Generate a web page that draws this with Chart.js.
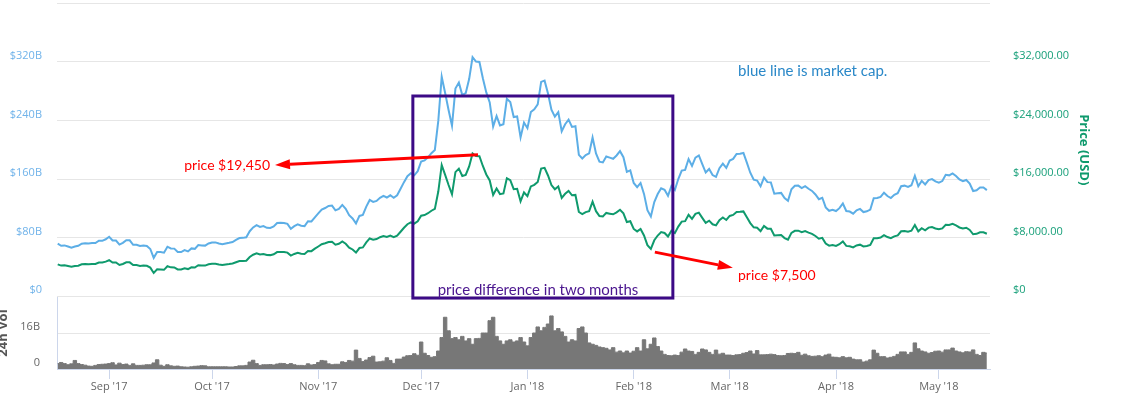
<!DOCTYPE html>
<html>
<head>
<meta charset="utf-8">
<script src="https://cdn.jsdelivr.net/npm/chart.js@4.4.1/dist/chart.umd.min.js"></script>
<style>
  html, body { margin: 0; padding: 0; background: #ffffff; width: 1125px; height: 397px; overflow: hidden; }
  #wrapMain { position: absolute; left: 0; top: 0; width: 1125px; height: 306px; z-index: 2; }
  #wrapVol { position: absolute; left: 0; top: 280px; width: 1125px; height: 117px; z-index: 1; }
  canvas { display: block; }
</style>
</head>
<body>
<div id="wrapVol"><canvas id="vol" width="1125" height="117"></canvas></div>
<div id="wrapMain"><canvas id="main" width="1125" height="306"></canvas></div>
<script>
// ---------------- DATA ----------------
// one value per day, starting at this date (2017-08-17 ... 2018-05-15)
const startDate = '2017-08-17';
const axisStartDate = '2017-08-16T19:00Z';
const axisEndDate = '2018-05-15T22:00Z';

const monthTickDates = ['2017-09-01', '2017-10-01', '2017-11-01', '2017-12-01', '2018-01-01',
                        '2018-02-01', '2018-03-01', '2018-04-01', '2018-05-01'];
const monthTickLabels = ["Sep '17", "Oct '17", "Nov '17", "Dec '17", "Jan '18",
                         "Feb '18", "Mar '18", "Apr '18", "May '18"];

// Price (USD)
const priceUSD = [
  4330,4160,4190,4090,4000,4100,4150,4330,4370,4350,4380,4380,4580,4570,4700,
  4890,4580,4580,4240,4380,4600,4600,4230,4230,4120,4160,4130,3880,3150,3640,3630,3580,4070,3920,3910,3630,3630,3790,3680,3930,3890,4200,4170,4160,4340,
  4400,4410,4320,4250,4320,4370,4440,4610,4770,4780,4830,5330,5640,5830,5680,5750,5610,5590,5710,6010,6030,6010,5930,5530,5750,5900,5780,5750,6150,6130,6470,
  6770,7080,7210,7380,7410,7020,7140,7460,7140,6620,6360,5950,6560,6640,7320,7870,7710,7790,8040,8200,8070,8250,8040,8250,8790,9330,9820,10060,9890,10230,
  10980,11070,11320,11660,11920,14290,17900,16570,15180,13900,16940,17420,16410,16560,17710,19500,19140,19110,17780,16620,15800,13830,14700,13930,14030,16100,15840,14610,14660,12950,14160,
  13660,14980,15200,15600,17430,17530,16480,15170,14600,14970,13410,13980,14360,13770,13820,11490,11190,11470,11610,12900,11600,10930,10870,11360,11260,11170,11440,11790,11300,10110,10220,
  9170,8830,9170,8280,6960,6450,7620,8270,8740,8620,8130,8930,8600,9490,10170,10230,11110,10550,11230,11400,10690,10010,10300,9810,9660,10370,10730,10400,
  10950,11090,11490,11510,11570,10780,9970,9400,9340,8870,9580,9210,9190,8270,8300,8340,7920,7700,8630,8910,8930,8730,8880,8670,8500,8210,7830,7950,7170,6890,6970,
  6850,7080,7460,6850,6810,6640,6910,7020,6770,6830,6970,7890,7900,7990,8330,8060,7900,8160,8290,8850,8900,8800,8930,9700,8850,9280,8990,9350,9420,9240,
  9120,9240,9740,9700,9860,9650,9370,9230,9330,9040,8440,8500,8720,8720,8510
];

// Market cap (billions USD)
const marketCapB = [
  71.5,68.7,69.2,67.6,66.1,67.7,68.6,71.5,72.2,71.9,72.4,72.4,75.7,75.5,77.6,
  81.0,75.9,75.9,70.3,72.6,76.2,76.2,70.1,70.1,68.3,68.9,68.4,64.3,52.2,60.3,60.1,59.3,67.4,65.0,64.8,60.1,60.1,62.8,61.0,65.1,64.5,69.6,69.1,68.9,71.9,
  73.2,73.3,71.8,70.7,71.8,72.7,73.8,76.7,79.3,79.5,80.3,88.6,93.8,97.0,94.5,95.6,93.3,93.0,95.0,99.9,100.3,99.9,98.6,92.0,95.6,98.1,96.1,95.6,102.3,101.9,107.6,
  113.0,118.2,120.3,123.2,123.7,117.2,119.2,124.5,119.2,110.5,106.1,99.3,109.5,110.8,122.2,131.3,128.7,130.0,134.2,136.9,134.7,137.7,134.2,137.7,146.7,155.7,163.9,167.9,165.1,170.7,
  183.9,185.4,189.6,195.3,199.7,239.4,299.8,277.5,254.3,232.8,283.7,291.8,274.9,277.4,296.6,326.6,320.6,320.1,297.8,278.4,264.7,231.7,246.2,233.3,235.0,269.7,265.3,244.7,245.6,216.9,237.2,
  229.5,251.7,255.4,262.1,292.8,294.5,276.9,254.9,245.3,251.5,225.3,234.9,241.2,231.3,232.2,193.0,188.0,192.7,195.0,216.7,194.9,183.6,182.6,190.8,189.2,187.7,192.2,198.1,189.8,169.8,171.7,
  154.6,148.9,154.6,139.6,117.3,108.7,128.5,139.4,147.4,145.3,137.1,150.6,145.0,160.0,171.5,172.5,187.3,177.9,189.3,192.2,180.2,168.8,173.7,165.4,162.9,174.8,180.9,175.3,
  185.2,187.5,194.3,194.6,195.6,182.3,168.6,159.0,157.9,150.0,162.0,155.7,155.4,139.8,140.4,141.0,133.9,130.2,145.9,150.7,151.0,147.6,150.2,146.6,143.7,138.8,132.4,134.4,121.2,116.5,117.9,
  116.2,120.1,126.5,116.2,115.5,112.6,117.2,119.1,114.8,115.8,118.2,133.8,134.0,135.5,141.3,136.7,134.0,138.4,140.6,150.1,150.9,149.2,151.5,164.5,150.1,157.4,152.5,158.6,159.8,156.7,
  155.1,157.2,165.7,165.0,167.7,164.1,159.4,157.0,158.7,153.8,143.6,144.6,148.3,148.3,144.8
];

// 24h volume (billions USD)
const volumeB = [
  2.4,2.9,2.4,1.9,2.3,3.8,2.4,2.0,1.7,1.3,1.2,1.6,2.0,2.1,2.2,
  2.4,2.8,1.8,2.6,2.0,2.2,1.6,2.3,1.6,1.6,1.7,1.9,1.9,2.7,4.1,1.7,1.2,1.9,1.4,1.2,1.3,1.0,0.9,0.8,1.0,1.2,1.3,1.5,1.4,1.0,
  1.0,1.0,1.0,1.0,1.0,0.9,0.9,1.1,1.4,1.4,1.6,3.1,3.9,2.4,1.6,1.9,1.9,2.0,1.8,2.2,2.5,2.4,2.0,2.4,1.9,1.6,1.6,1.5,2.3,1.8,2.0,
  2.9,3.8,3.6,2.3,1.9,2.1,2.1,3.2,2.9,3.8,3.5,8.4,4.7,3.3,4.0,5.1,5.7,3.1,3.2,3.5,5.0,3.8,2.5,4.4,4.4,5.3,5.9,6.0,6.8,6.1,
  12.0,7.0,6.0,5.2,5.5,8.0,14.0,23.0,17.0,13.5,14.0,13.0,14.5,12.5,13.5,11.0,13.5,13.6,16.0,16.0,21.5,23.0,14.5,12.5,11.0,12.5,13.0,12.0,12.5,14.0,12.0,
  10.3,14.0,16.0,18.7,17.0,18.5,20.0,23.6,17.0,18.0,16.5,14.5,12.0,13.0,12.5,18.0,18.7,16.0,11.6,11.0,10.5,9.8,9.5,9.2,8.5,9.5,7.5,8.0,7.2,8.0,7.1,
  7.9,9.5,8.0,13.0,9.0,11.0,13.8,10.0,8.0,6.5,6.0,5.9,6.2,6.0,7.5,8.9,8.0,7.8,6.5,7.4,8.9,8.5,7.4,6.5,8.4,6.6,7.0,6.2,
  6.2,6.0,6.3,6.4,7.0,7.3,8.0,6.7,8.2,6.3,6.3,6.4,6.6,6.4,6.0,5.9,6.0,6.9,7.0,6.9,7.4,6.1,6.6,5.9,5.6,5.7,5.9,5.5,6.2,6.6,5.3,
  5.2,5.0,5.5,5.0,5.2,4.4,4.1,4.1,3.1,3.5,4.1,8.4,7.0,5.5,5.5,4.9,5.2,5.6,6.5,7.6,7.6,6.5,7.4,11.6,9.0,8.0,7.6,7.0,7.3,7.9,
  8.0,7.5,8.5,8.5,9.3,8.0,7.6,7.2,7.7,7.6,8.5,6.5,6.0,7.4,7.1
];

// Left axis ticks (billions), right axis ticks (USD), volume ticks (billions)
const capTicksB = [0, 80, 160, 240, 320, 400];
const priceTicks = [0, 8000, 16000, 24000, 32000, 40000];
const volTicksB = [0, 16, 32];

// Annotations (anchored to date / price)
const noteBox = { from: '2017-11-28T14:00Z', to: '2018-02-12T10:00Z', topPrice: 27350, bottomPrice: -280 };
const noteArrows = [
  { fromDate: '2017-12-17T14:00Z', fromPrice: 19300, toDate: '2017-10-19T09:00Z', toPrice: 17900 },
  { fromDate: '2018-02-07T04:00Z', fromPrice: 6000, toDate: '2018-03-01T22:00Z', toPrice: 3850 }
];
const noteTexts = [
  { text: 'price $19,450', date: '2017-10-17T22:00Z', price: 17900, align: 'right', kind: 'red', size: 14 },
  { text: 'price $7,500', date: '2018-03-03T10:00Z', price: 2750, align: 'left', kind: 'red', size: 14 },
  { text: 'blue line is market cap.', date: '2018-03-03T10:00Z', price: 30700, align: 'left', kind: 'blue', size: 15 },
  { text: 'price difference in two months', date: '2018-01-04T02:00Z', price: 850, align: 'center', kind: 'purple', size: 15 }
];

// ---------------- HELPERS ----------------
const DAY = 86400000;
const ORIGIN = Date.parse(monthTickDates[0] + 'T00:00Z');
function dayOffset(d) {
  const s = d.length === 10 ? d + 'T00:00Z' : d;
  return (Date.parse(s) - ORIGIN) / DAY;
}
const x0 = dayOffset(startDate);
const monthTickDays = monthTickDates.map(dayOffset);

const BLUE = '#5caee6';
const BLUE_LABEL = '#70b3ea';
const GREEN = '#0f9a6d';
const GREEN_LABEL = '#19a07a';
const GRID = '#e6e6e6';
const AXIS = '#ccd6eb';
const GRAY = '#666666';
const FONT = "'Open Sans', 'Noto Sans', sans-serif";
const NOTE_FONT = "Lato, 'Open Sans', sans-serif";
const TEXT_COLORS = { red: '#ff0000', blue: '#2a88c8', purple: '#4b168f' };

Chart.defaults.font.family = FONT;
Chart.defaults.font.size = 11;

function drawArrow(ctx, x1, y1, x2, y2) {
  const ang = Math.atan2(y2 - y1, x2 - x1);
  const headLen = 15, headW = 5;
  const bx = x2 - headLen * Math.cos(ang), by = y2 - headLen * Math.sin(ang);
  ctx.strokeStyle = '#ff0000';
  ctx.lineWidth = 3;
  ctx.beginPath();
  ctx.moveTo(x1, y1);
  ctx.lineTo(bx, by);
  ctx.stroke();
  ctx.fillStyle = '#ff0000';
  ctx.beginPath();
  ctx.moveTo(x2, y2);
  ctx.lineTo(bx + headW * Math.sin(ang), by - headW * Math.cos(ang));
  ctx.lineTo(bx - headW * Math.sin(ang), by + headW * Math.cos(ang));
  ctx.closePath();
  ctx.fill();
}

const notesPlugin = {
  id: 'notes',
  afterDatasetsDraw(chart) {
    const { ctx } = chart;
    const xs = chart.scales.x, ys = chart.scales.yPrice;
    const px = d => xs.getPixelForValue(dayOffset(d));
    const py = v => ys.getPixelForValue(v);
    ctx.save();
    // box
    ctx.strokeStyle = '#3c0a86';
    ctx.lineWidth = 3;
    const bx1 = px(noteBox.from), bx2 = px(noteBox.to);
    const by1 = py(noteBox.topPrice), by2 = py(noteBox.bottomPrice);
    ctx.strokeRect(bx1, by1, bx2 - bx1, by2 - by1);
    // arrows
    noteArrows.forEach(a => drawArrow(ctx, px(a.fromDate), py(a.fromPrice), px(a.toDate), py(a.toPrice)));
    // texts
    ctx.textBaseline = 'middle';
    noteTexts.forEach(t => {
      ctx.font = t.size + 'px ' + NOTE_FONT;
      ctx.fillStyle = TEXT_COLORS[t.kind];
      ctx.textAlign = t.align;
      ctx.fillText(t.text, px(t.date), py(t.price));
    });
    ctx.restore();
  }
};

const xMin = dayOffset(axisStartDate);
const xMax = dayOffset(axisEndDate);

// ---------------- MAIN CHART ----------------
new Chart(document.getElementById('main'), {
  type: 'line',
  data: {
    datasets: [
      {
        label: 'Market Cap',
        data: marketCapB.map((v, i) => ({ x: x0 + i, y: v * 1e9 })),
        yAxisID: 'yCap',
        borderColor: BLUE,
        borderWidth: 2,
        pointRadius: 0,
        tension: 0
      },
      {
        label: 'Price',
        data: priceUSD.map((v, i) => ({ x: x0 + i, y: v })),
        yAxisID: 'yPrice',
        borderColor: GREEN,
        borderWidth: 2,
        pointRadius: 0,
        tension: 0
      }
    ]
  },
  options: {
    responsive: false,
    animation: false,
    devicePixelRatio: 1,
    layout: { padding: { top: 3.5, bottom: 10, left: 0, right: 0 } },
    plugins: { legend: { display: false }, tooltip: { enabled: false } },
    scales: {
      x: { type: 'linear', min: xMin, max: xMax, display: false },
      yCap: {
        type: 'linear', position: 'left', min: 0, max: capTicksB[capTicksB.length - 1] * 1e9,
        afterBuildTicks: s => { s.ticks = capTicksB.map(v => ({ value: v * 1e9 })); },
        ticks: {
          color: BLUE_LABEL, padding: 15, labelOffset: -6,
          font: { size: 11, family: FONT },
          callback: v => v >= 400e9 ? '' : (v === 0 ? '$0' : '$' + (v / 1e9) + 'B')
        },
        grid: { color: GRID, drawTicks: false, lineWidth: 1 },
        border: { display: false },
        afterFit: s => { s.width = 57; s.paddingTop = 0; s.paddingBottom = 0; }
      },
      yPrice: {
        type: 'linear', position: 'right', min: 0, max: priceTicks[priceTicks.length - 1],
        afterBuildTicks: s => { s.ticks = priceTicks.map(v => ({ value: v })); },
        ticks: {
          color: GREEN_LABEL, padding: 15, labelOffset: -6,
          font: { size: 11, family: FONT },
          callback: v => v >= 40000 ? '' : (v === 0 ? '$0' : '$' + v.toLocaleString('en-US', { minimumFractionDigits: 2, maximumFractionDigits: 2 }))
        },
        grid: { display: false },
        border: { display: false },
        title: {
          display: true, text: 'Price (USD)', color: GREEN,
          font: { size: 13, weight: 'bold', family: FONT },
          padding: { top: 33, bottom: 0 }
        },
        afterFit: s => { s.width = 135; s.paddingTop = 0; s.paddingBottom = 0; }
      }
    }
  },
  plugins: [notesPlugin]
});

// ---------------- VOLUME CHART ----------------
new Chart(document.getElementById('vol'), {
  type: 'line',
  data: {
    datasets: [{
      label: '24h Vol',
      data: volumeB.map((v, i) => ({ x: x0 + i, y: v * 1e9 })),
      yAxisID: 'yVol',
      borderColor: '#777777',
      backgroundColor: '#777777',
      borderWidth: 1,
      fill: 'origin',
      stepped: 'middle',
      pointRadius: 0
    }]
  },
  options: {
    responsive: false,
    animation: false,
    devicePixelRatio: 1,
    layout: { padding: { top: 17, bottom: 0, left: 0, right: 135 } },
    plugins: { legend: { display: false }, tooltip: { enabled: false } },
    scales: {
      x: {
        type: 'linear', position: 'bottom', min: xMin, max: xMax,
        afterBuildTicks: s => { s.ticks = monthTickDays.map(v => ({ value: v })); },
        ticks: {
          color: GRAY, padding: 1, autoSkip: false, maxRotation: 0,
          font: { size: 11, family: FONT },
          callback: (v, i) => monthTickLabels[i]
        },
        grid: { drawOnChartArea: false, drawTicks: true, tickLength: 10, color: AXIS },
        border: { display: true, color: AXIS, width: 1 },
        afterFit: s => { s.height = 28; s.paddingLeft = 0; s.paddingRight = 0; }
      },
      yVol: {
        type: 'linear', position: 'left', min: 0, max: volTicksB[volTicksB.length - 1] * 1e9,
        afterBuildTicks: s => { s.ticks = volTicksB.map(v => ({ value: v * 1e9 })); },
        ticks: {
          color: GRAY, padding: 17, labelOffset: -6,
          font: { size: 11, family: FONT },
          callback: v => v === 0 ? '0' : (v === 16e9 ? '16B' : '')
        },
        grid: {
          drawTicks: false,
          color: c => (c.tick && c.tick.value === 16e9) ? GRID : 'rgba(0,0,0,0)'
        },
        border: { display: true, color: AXIS, width: 1 },
        title: {
          display: true, text: '24h Vol', color: '#555555',
          font: { size: 13, weight: 'bold', family: FONT },
          padding: { top: -5, bottom: 0 }
        },
        afterFit: s => { s.width = 57; s.paddingTop = 0; s.paddingBottom = 0; }
      }
    }
  }
});
</script>
</body>
</html>
